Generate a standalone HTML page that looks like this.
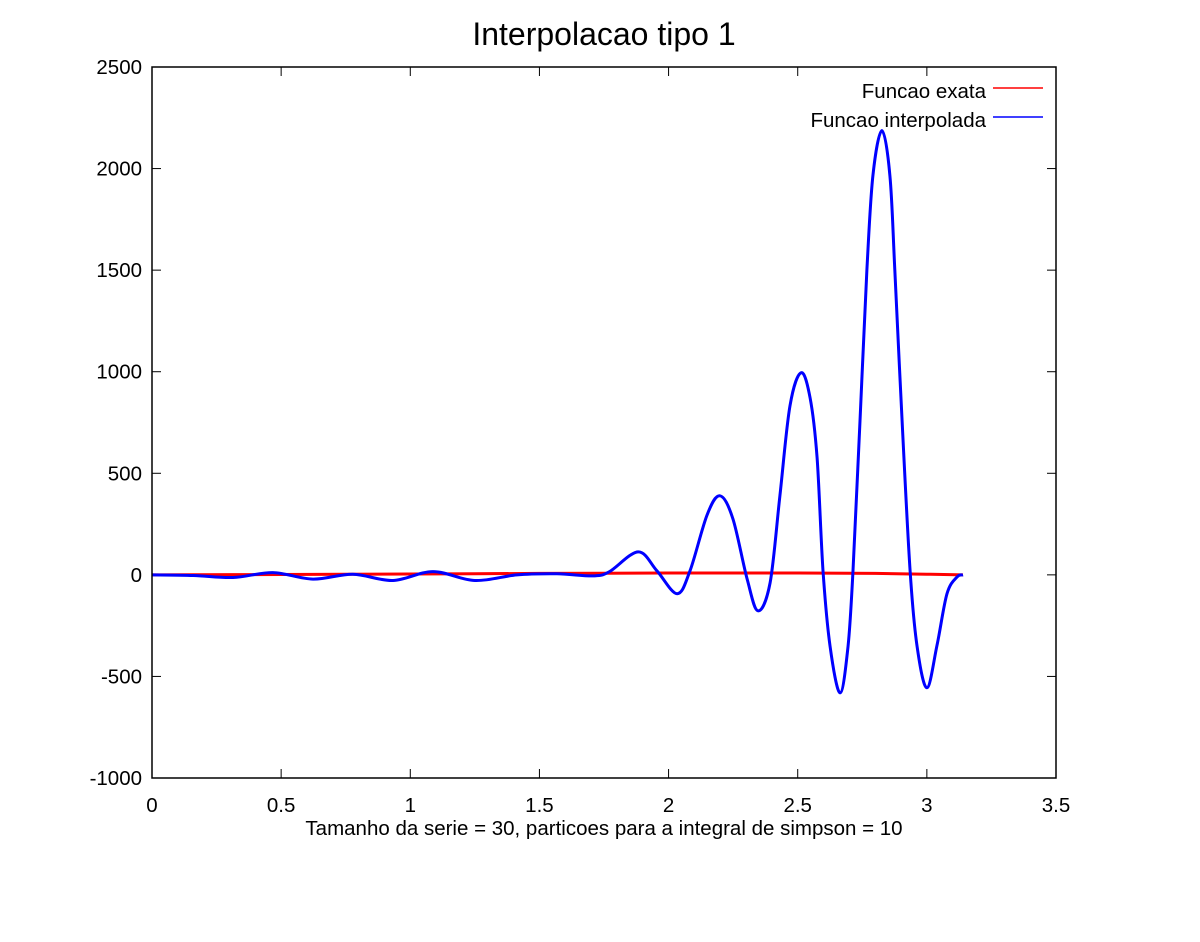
<!DOCTYPE html>
<html><head><meta charset="utf-8"><style>
html,body{margin:0;padding:0;background:#fff;}
svg{display:block;font-family:"Liberation Sans",sans-serif;}
</style></head><body>
<svg id="chart" width="1200" height="942" xmlns="http://www.w3.org/2000/svg">
<rect width="1200" height="942" fill="#fff"/>
<text x="604" y="45" font-size="32" text-anchor="middle">Interpolacao tipo 1</text>
<g id="ticks"></g>
<g id="series"></g>
<rect x="152" y="67" width="904" height="711" fill="none" stroke="#000" stroke-width="1.5"/>
<text x="604" y="835" font-size="20.5" text-anchor="middle">Tamanho da serie = 30, particoes para a integral de simpson = 10</text>
<g>
<text x="986" y="98" font-size="20.5" text-anchor="end">Funcao exata</text>
<line x1="993" y1="88" x2="1043" y2="88" stroke="#ff0000" stroke-width="1.5"/>
<text x="986" y="127" font-size="20.5" text-anchor="end">Funcao interpolada</text>
<line x1="993" y1="117" x2="1043" y2="117" stroke="#0000ff" stroke-width="1.5"/>
</g>
</svg>
<script>
const xTicks = [0, 0.5, 1, 1.5, 2, 2.5, 3, 3.5];
const xTickLabels = ["0", "0.5", "1", "1.5", "2", "2.5", "3", "3.5"];
const yTicks = [-1000, -500, 0, 500, 1000, 1500, 2000, 2500];
const yTickLabels = ["-1000", "-500", "0", "500", "1000", "1500", "2000", "2500"];
const exataX = [0, 0.5, 1, 1.5, 2, 2.5, 2.8, 3.0, 3.14];
const exataY = [0, 2, 4, 7, 9, 9, 7, 3, 0];
const interpX = [0, 0.16, 0.314, 0.468, 0.623, 0.778, 0.933, 1.088, 1.25, 1.413, 1.568, 1.707, 1.77, 1.882, 1.955, 2.033, 2.083, 2.149, 2.199, 2.249, 2.304, 2.346, 2.393, 2.431, 2.47, 2.513, 2.548, 2.575, 2.598, 2.625, 2.664, 2.695, 2.714, 2.741, 2.768, 2.791, 2.826, 2.857, 2.876, 2.904, 2.935, 2.962, 3.0, 3.039, 3.078, 3.117, 3.14];
const interpY = [0, -3, -13, 11, -21, 3, -28, 16, -28, 0, 5, -5, 15, 113, 20, -93, 20, 295, 389, 276, -20, -177, -39, 389, 832, 995, 871, 576, 20, -349, -581, -349, 20, 758, 1502, 1965, 2187, 1965, 1502, 758, 20, -349, -556, -349, -93, -10, 0];

const X0 = 152, X1 = 1056, Y0 = 778, Y1 = 67;
function sx(v){ return X0 + (v - 0) / 3.5 * (X1 - X0); }
function sy(v){ return Y0 - (v + 1000) / 3500 * (Y0 - Y1); }
const NS = "http://www.w3.org/2000/svg";
const tg = document.getElementById('ticks');
function mk(tag, attrs, parent){
  const e = document.createElementNS(NS, tag);
  for (const k in attrs) e.setAttribute(k, attrs[k]);
  parent.appendChild(e);
  return e;
}
xTicks.forEach((t, i) => {
  const x = sx(t);
  const a = mk('line', {x1:x, y1:Y0, x2:x, y2:Y0-9, stroke:'#000', 'stroke-width':1}, tg);
  
  
  const b = mk('line', {x1:x, y1:Y1, x2:x, y2:Y1+9, stroke:'#000', 'stroke-width':1}, tg);
  
  
  const l = mk('text', {x:x, y:812, 'font-size':20.5, 'text-anchor':'middle'}, tg);
  l.textContent = xTickLabels[i];
  
  
});
yTicks.forEach((t, i) => {
  const y = sy(t);
  const a = mk('line', {x1:X0, y1:y, x2:X0+9, y2:y, stroke:'#000', 'stroke-width':1}, tg);
  
  
  const b = mk('line', {x1:X1, y1:y, x2:X1-9, y2:y, stroke:'#000', 'stroke-width':1}, tg);
  
  
  const l = mk('text', {x:142, y:y+7, 'font-size':20.5, 'text-anchor':'end'}, tg);
  l.textContent = yTickLabels[i];
  
  
});
const sg = document.getElementById('series');
function smoothPath(xs, ys){
  const p = xs.map((v, i) => [sx(v), sy(ys[i])]);
  let d = 'M' + p[0][0].toFixed(1) + ',' + p[0][1].toFixed(1);
  for (let i = 0; i < p.length - 1; i++) {
    const p0 = p[Math.max(0, i-1)], p1 = p[i], p2 = p[i+1], p3 = p[Math.min(p.length-1, i+2)];
    const c1x = p1[0] + (p2[0]-p0[0])/6, c1y = p1[1] + (p2[1]-p0[1])/6;
    const c2x = p2[0] - (p3[0]-p1[0])/6, c2y = p2[1] - (p3[1]-p1[1])/6;
    d += ' C' + c1x.toFixed(1) + ',' + c1y.toFixed(1) + ' ' + c2x.toFixed(1) + ',' + c2y.toFixed(1) + ' ' + p2[0].toFixed(1) + ',' + p2[1].toFixed(1);
  }
  return d;
}
const r = mk('path', {d:smoothPath(exataX, exataY), fill:'none', stroke:'#ff0000', 'stroke-width':3, 'stroke-linejoin':'round'}, sg);


const bl = mk('path', {d:smoothPath(interpX, interpY), fill:'none', stroke:'#0000ff', 'stroke-width':3, 'stroke-linejoin':'round'}, sg);


</script>
</body></html>
